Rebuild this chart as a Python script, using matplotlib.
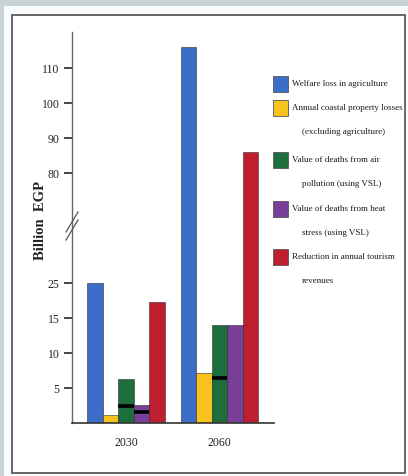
import numpy as np
import matplotlib
matplotlib.use("Agg")
import matplotlib.pyplot as plt
from matplotlib.patches import Rectangle
from matplotlib.lines import Line2D

# ---- data (billion EGP) ----
years = ["2030", "2060"]
series = [
    "Welfare loss in agriculture",
    "Annual coastal property losses",
    "Value of deaths from air",
    "Value of deaths from heat",
    "Reduction in annual tourism",
]
series_second_line = [
    "",
    "(excluding agriculture)",
    "pollution (using VSL)",
    "stress (using VSL)",
    "revenues",
]
welfare_agri = [25.0, 116.0]
coastal_prop = [1.2, 7.1]
air_pollution = [6.3, 14.0]
heat_stress = [2.6, 14.0]
tourism = [19.5, 86.0]
# black markers inside the VSL bars (None = no marker)
air_marker = [2.5, 6.4]
heat_marker = [1.6, None]

colors = ["#3b6dc9", "#f7c31c", "#1d6d3d", "#7a3f98", "#bd1f2f"]
ytick_vals = [5, 10, 15, 25, 80, 90, 100, 110]

# ---- broken, piecewise-linear value axis ----
v_knots = np.array([-1000.0, 0.0, 15.0, 41.0, 65.0, 1000.0])
u_knots = np.array([-1000.0, 0.0, 15.0, 28.0, 28.2, 28.2 + (1000 - 65) / 2])


def fwd(v):
    return np.interp(v, v_knots, u_knots)


def inv(u):
    return np.interp(u, u_knots, v_knots)


plt.rcParams["font.family"] = ["Liberation Serif", "DejaVu Serif"]

W, H = 408, 476
fig = plt.figure(figsize=(W / 100, H / 100), dpi=100)
fig.patch.set_facecolor("#c9d2d6")

# page background and frame
fig.add_artist(Rectangle((4 / W, 0), 1, 1 - 6 / H, transform=fig.transFigure,
                         facecolor="#f8fafb", edgecolor="none", zorder=-3))
fig.add_artist(Rectangle((12 / W, 1 - 473 / H), (405 - 12) / W, (473 - 15) / H,
                         transform=fig.transFigure, facecolor="#ffffff",
                         edgecolor="#4a4f52", linewidth=1.2, zorder=-2))

ax = fig.add_axes([72 / W, 1 - 423 / H, 202 / W, 391 / H])
ax.set_yscale("function", functions=(fwd, inv))
ax.set_facecolor("none")

x = np.arange(len(years))
width = 0.166
offsets = (np.arange(len(series)) - 2) * width
values = [welfare_agri, coastal_prop, air_pollution, heat_stress, tourism]

bar_groups = []
for vals, off, c in zip(values, offsets, colors):
    bars = ax.bar(x + off, vals, width, color=c, edgecolor="#2a2a2a",
                  linewidth=0.4, zorder=2)
    bar_groups.append(bars)

for bars, marks in ((bar_groups[2], air_marker), (bar_groups[3], heat_marker)):
    for b, m in zip(bars, marks):
        if m is None:
            continue
        ax.hlines(m, b.get_x(), b.get_x() + b.get_width(), colors="black",
                  linewidth=2.6, zorder=3)

ax.set_xlim(-0.578, 1.583)
ax.set_ylim(0, inv(55.86))

ax.set_yticks(ytick_vals)
ax.set_yticklabels([str(v) for v in ytick_vals])
ax.set_xticks(x)
ax.set_xticklabels(years)
ax.tick_params(axis="y", length=6, width=1.4, color="#444444", pad=3,
               labelsize=8.5, labelcolor="#222222")
ax.tick_params(axis="x", length=0, pad=10, labelsize=8.5, labelcolor="#222222")

for s in ("top", "right"):
    ax.spines[s].set_visible(False)
ax.spines["left"].set_color("#666666")
ax.spines["left"].set_linewidth(1.0)
ax.spines["bottom"].set_color("#333333")
ax.spines["bottom"].set_linewidth(1.2)

# break marks on the value axis
for dy in (-4, 4):
    fig.add_artist(Line2D([66 / W, 78 / W],
                          [1 - (236 + dy) / H, 1 - (216 + dy) / H],
                          transform=fig.transFigure, color="#555555",
                          linewidth=0.9))

fig.text(41 / W, 1 - 220 / H, "Billion  EGP", rotation=90, ha="center",
         va="center", fontsize=10.5, fontweight="bold", color="#222222")

# legend
ys = [84, 108, 160, 209, 257]
for name, second, c, yy in zip(series, series_second_line, colors, ys):
    fig.add_artist(Rectangle((273 / W, 1 - (yy + 8) / H), 15 / W, 16 / H,
                             transform=fig.transFigure, facecolor=c,
                             edgecolor="#555555", linewidth=0.6))
    fig.text(292 / W, 1 - yy / H, name, ha="left", va="center", fontsize=6.5,
             color="#1a1a1a")
    if second:
        fig.text(302 / W, 1 - (yy + 24) / H, second, ha="left", va="center",
                 fontsize=6.5, color="#1a1a1a")

fig.savefig("out.png", dpi=100, facecolor=fig.get_facecolor())
